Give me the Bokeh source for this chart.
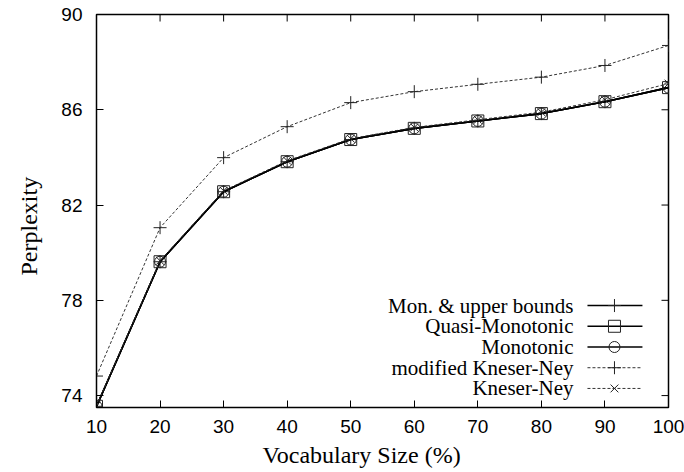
import math
from bokeh.plotting import figure
from bokeh.models import FixedTicker, Range1d, Title
from bokeh.core.properties import value
from bokeh.embed import file_html
from bokeh.resources import INLINE

# ---- data ----
vocab_size = [10, 20, 30, 40, 50, 60, 70, 80, 90, 100]
mon_upper = [73.55, 79.62, 82.56, 83.82, 84.75, 85.22, 85.53, 85.84, 86.34, 86.93]
quasi_mono = [73.55, 79.62, 82.56, 83.82, 84.75, 85.22, 85.53, 85.84, 86.34, 86.93]
monotonic = [73.55, 79.62, 82.56, 83.82, 84.75, 85.22, 85.53, 85.84, 86.34, 86.93]
mod_kn = [74.82, 81.05, 83.99, 85.29, 86.30, 86.76, 87.07, 87.37, 87.86, 88.70]
kn = [73.58, 79.66, 82.60, 83.86, 84.79, 85.26, 85.58, 85.90, 86.42, 87.10]

x_ticks = [10, 20, 30, 40, 50, 60, 70, 80, 90, 100]
y_ticks = [74, 78, 82, 86, 90]

legend_labels = ["Mon. & upper bounds", "Quasi-Monotonic", "Monotonic",
                 "modified Kneser-Ney", "Kneser-Ney"]

TICK_FONT = "Liberation Sans"
LABEL_FONT = "Liberation Serif"

X_MIN, X_MAX = 10, 100
Y_MIN, Y_MAX = 73.5, 90

p = figure(output_backend="svg", toolbar_location=None,
           frame_width=572, frame_height=393,
           x_range=Range1d(X_MIN, X_MAX), y_range=Range1d(Y_MIN, Y_MAX),
           min_border_left=96, min_border_right=16,
           min_border_top=14, min_border_bottom=65)
p.xgrid.visible = False
p.ygrid.visible = False
p.outline_line_color = "black"
p.outline_line_width = 1.5
p.background_fill_color = "white"

for ax in (p.xaxis[0], p.yaxis[0]):
    ax.major_tick_in = 7
    ax.major_tick_out = 0
    ax.minor_tick_line_color = None
    ax.axis_line_color = "black"
    ax.major_tick_line_color = "black"
    ax.major_label_text_font = TICK_FONT
    ax.major_label_text_font_size = "19px"
    ax.major_label_text_color = "black"

p.xaxis[0].ticker = FixedTicker(ticks=x_ticks)
p.yaxis[0].ticker = FixedTicker(ticks=y_ticks)
p.xaxis[0].major_label_standoff = 12
p.yaxis[0].major_label_standoff = 14

# mirrored ticks on the top and right edges (clipped to the frame -> inward)
p.scatter([X_MAX] * len(y_ticks), y_ticks, marker="dash", size=14,
          line_color="black", line_width=1)
p.scatter(x_ticks, [Y_MAX] * len(x_ticks), marker="dash", size=14,
          angle=math.pi / 2, line_color="black", line_width=1)

# axis titles
xt = Title(text="Vocabulary Size (%)", align="left", offset=166,
           text_font=LABEL_FONT, text_font_size="24px",
           text_font_style="normal", text_color="black", standoff=8)
yt = Title(text="Perplexity", align="left", offset=132,
           text_font=LABEL_FONT, text_font_size="24px",
           text_font_style="normal", text_color="black", standoff=30,
           vertical_align="top")
p.add_layout(xt, "below")
p.add_layout(yt, "left")

solid = dict(line_color="black", line_width=1.6)
dashed = dict(line_color="#333333", line_width=1, line_dash="3 2")
mk = dict(line_color="#222222", line_width=1, fill_color=None)

series = [
    (mon_upper, solid, "cross", 13),
    (quasi_mono, solid, "square", 12),
    (monotonic, solid, "circle", 11),
    (mod_kn, dashed, "cross", 13),
    (kn, dashed, "x", 11),
]

# legend layout (data coords of the key box)
leg_text_x = 85.05
leg_x0, leg_x1, leg_xm = 87.25, 95.9, 91.5
leg_y0, leg_dy = 77.78, 0.87

for i, (ys, style, marker, size) in enumerate(series):
    p.line(vocab_size, ys, **style)
    p.scatter(vocab_size, ys, marker=marker, size=size, **mk)
    ly = leg_y0 - i * leg_dy
    p.text(x=[leg_text_x], y=[ly], text=[legend_labels[i]],
           text_align="right", text_baseline="middle",
           text_font=value(LABEL_FONT), text_font_size="21px",
           text_color="black")
    p.segment(x0=[leg_x0], y0=[ly], x1=[leg_x1], y1=[ly], **style)
    p.scatter([leg_xm], [ly], marker=marker, size=size, **mk)

open("out.html", "w").write(file_html(p, INLINE))
